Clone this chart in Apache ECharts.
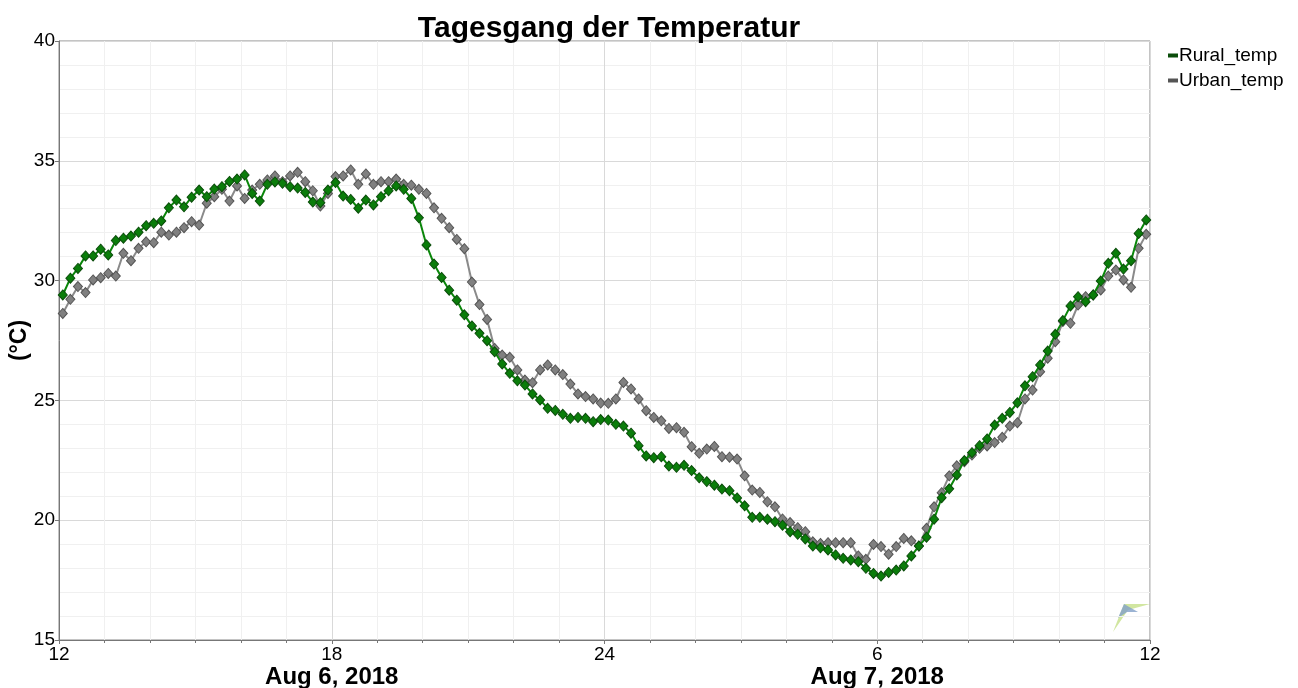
<!DOCTYPE html>
<html>
<head>
<meta charset="utf-8">
<title>Tagesgang der Temperatur</title>
<script src="https://cdn.jsdelivr.net/npm/echarts@6/dist/echarts.min.js"></script>
<style>
  html, body { margin: 0; padding: 0; background: #fff; }
  #chart { width: 1298px; height: 688px; }
</style>
</head>
<body>
<div id="chart"></div>
<script>
// 10-minute readings, first one at 12:05 on Aug 6 2018
var firstMinute = 5;
var stepMinutes = 10;

var rural = [
    29.40, 30.10, 30.51, 31.03, 31.03, 31.31, 31.07, 31.67, 31.77, 31.86,
    32.02, 32.29, 32.39, 32.49, 33.04, 33.36, 33.08, 33.48, 33.78, 33.50,
    33.82, 33.92, 34.14, 34.24, 34.41, 33.64, 33.32, 34.02, 34.12, 34.06,
    33.92, 33.86, 33.68, 33.28, 33.25, 33.78, 34.09, 33.53, 33.39, 33.02,
    33.36, 33.16, 33.50, 33.75, 33.95, 33.81, 33.43, 32.62, 31.49, 30.69,
    30.13, 29.60, 29.18, 28.57, 28.11, 27.80, 27.49, 27.03, 26.52, 26.13,
    25.82, 25.64, 25.27, 25.02, 24.67, 24.58, 24.42, 24.25, 24.29, 24.25,
    24.11, 24.20, 24.18, 24.00, 23.93, 23.63, 23.11, 22.68, 22.61, 22.65,
    22.26, 22.21, 22.29, 22.07, 21.77, 21.61, 21.46, 21.30, 21.23, 20.93,
    20.60, 20.12, 20.12, 20.04, 19.94, 19.79, 19.52, 19.41, 19.22, 18.92,
    18.85, 18.76, 18.55, 18.41, 18.34, 18.27, 17.99, 17.78, 17.67, 17.82,
    17.92, 18.09, 18.51, 18.92, 19.29, 20.04, 20.94, 21.31, 21.89, 22.49,
    22.82, 23.11, 23.39, 23.97, 24.25, 24.50, 24.90, 25.61, 25.99, 26.48,
    27.06, 27.76, 28.33, 28.94, 29.33, 29.12, 29.40, 29.98, 30.72, 31.14,
    30.48, 30.83, 31.97, 32.53
];

var urban = [
    28.63, 29.22, 29.75, 29.50, 30.03, 30.12, 30.30, 30.19, 31.14, 30.83,
    31.35, 31.62, 31.58, 32.02, 31.90, 32.02, 32.21, 32.46, 32.32, 33.23,
    33.50, 33.81, 33.32, 33.95, 33.43, 33.78, 34.02, 34.20, 34.37, 34.13,
    34.37, 34.52, 34.13, 33.75, 33.11, 33.64, 34.34, 34.37, 34.62, 34.02,
    34.45, 34.02, 34.13, 34.13, 34.24, 34.02, 33.98, 33.81, 33.64, 33.04,
    32.60, 32.21, 31.72, 31.33, 29.94, 29.00, 28.38, 27.17, 26.89, 26.80,
    26.27, 25.85, 25.74, 26.27, 26.48, 26.27, 26.08, 25.68, 25.27, 25.16,
    25.06, 24.89, 24.88, 25.06, 25.75, 25.48, 25.06, 24.57, 24.29, 24.15,
    23.83, 23.86, 23.67, 23.07, 22.79, 22.97, 23.08, 22.65, 22.63, 22.55,
    21.85, 21.26, 21.16, 20.77, 20.56, 20.05, 19.90, 19.69, 19.52, 19.10,
    19.03, 19.06, 19.06, 19.06, 19.06, 18.51, 18.37, 18.99, 18.90, 18.58,
    18.90, 19.24, 19.14, 18.92, 19.66, 20.56, 21.15, 21.85, 22.27, 22.44,
    22.72, 23.00, 23.10, 23.24, 23.46, 23.93, 24.07, 25.06, 25.43, 26.20,
    26.76, 27.45, 28.29, 28.22, 28.98, 29.33, 29.40, 29.61, 30.19, 30.44,
    30.03, 29.72, 31.35, 31.93
];

// x axis in hours after Aug 6 12:00
var xTickHours = [0, 6, 12, 18, 24];
var xTickLabels = ['12', '18', '24', '6', '12'];
var dateLabels = ['', 'Aug 6, 2018', '', 'Aug 7, 2018', ''];

function toPairs(values) {
    var out = [];
    for (var i = 0; i < values.length; i++) {
        out.push([(firstMinute + stepMinutes * i) / 60, values[i]]);
    }
    return out;
}

var dom = document.getElementById('chart');
var myChart = echarts.init(dom);
var font = '"Liberation Sans", Arial, sans-serif';

var option = {
    backgroundColor: '#fff',
    animation: false,
    textStyle: { fontFamily: font, color: '#000' },
    title: {
        text: 'Tagesgang der Temperatur',
        left: 604,
        textAlign: 'center',
        top: 9,
        textStyle: { fontFamily: font, fontSize: 30, fontWeight: 'bold', color: '#000' }
    },
    legend: {
        data: ['Rural_temp', 'Urban_temp'],
        orient: 'vertical',
        left: 1163,
        top: 41,
        itemWidth: 8,
        itemHeight: 2,
        itemGap: 6,
        icon: 'rect',
        textStyle: { fontFamily: font, fontSize: 19, color: '#000', padding: [0, 0, 0, -3] }
    },
    grid: {
        left: 59,
        right: 148,
        top: 41,
        bottom: 48,
        containLabel: false,
        outerBoundsMode: 'none',
        show: true,
        borderColor: '#888',
        borderWidth: 1
    },
    xAxis: {
        type: 'value',
        min: 0,
        max: 24,
        interval: 6,
        axisLine: { lineStyle: { color: '#777' } },
        axisTick: { show: true, length: 4, lineStyle: { color: '#777' } },
        minorTick: { show: true, splitNumber: 6, length: 3, lineStyle: { color: '#777' } },
        splitLine: { show: true, lineStyle: { color: '#d9d9d9' } },
        minorSplitLine: { show: true, lineStyle: { color: '#f0f0f0' } },
        axisLabel: {
            margin: 5,
            fontSize: 19,
            lineHeight: 19,
            color: '#000',
            fontFamily: font,
            formatter: function (v) {
                var k = xTickHours.indexOf(v);
                if (k < 0) return '';
                if (dateLabels[k]) {
                    return xTickLabels[k] + '\n{d|' + dateLabels[k] + '}';
                }
                return xTickLabels[k];
            },
            rich: {
                d: { fontFamily: font, fontSize: 24, fontWeight: 'bold', color: '#000', lineHeight: 26 }
            }
        }
    },
    yAxis: {
        type: 'value',
        min: 15,
        max: 40,
        interval: 5,
        name: '(°C)',
        nameLocation: 'middle',
        nameRotate: 90,
        nameGap: 28,
        nameMoveOverlap: false,
        nameTextStyle: { fontFamily: font, fontSize: 23, fontWeight: 'bold', color: '#000' },
        axisLine: { show: true, lineStyle: { color: '#777' } },
        axisTick: { show: true, length: 4, lineStyle: { color: '#777' } },
        splitLine: { show: true, lineStyle: { color: '#d9d9d9' } },
        minorTick: { show: false, splitNumber: 5 },
        minorSplitLine: { show: true, lineStyle: { color: '#f0f0f0' } },
        axisLabel: { fontSize: 19, color: '#000', fontFamily: font, margin: 4 }
    },
    series: [
        {
            name: 'Urban_temp',
            type: 'line',
            z: 2,
            data: toPairs(urban),
            symbol: 'diamond',
            symbolSize: [9, 10],
            showAllSymbol: true,
            lineStyle: { color: '#8a8a8a', width: 2 },
            itemStyle: { color: '#808080', borderColor: '#555', borderWidth: 1 }
        },
        {
            name: 'Rural_temp',
            type: 'line',
            z: 3,
            data: toPairs(rural),
            symbol: 'diamond',
            symbolSize: [9, 10],
            showAllSymbol: true,
            lineStyle: { color: '#0a860a', width: 2 },
            itemStyle: { color: '#0a7d0a', borderColor: '#0b4d0b', borderWidth: 1 }
        }
    ],
    graphic: [
        {
            type: 'polygon',
            shape: { points: [[1113, 632], [1124, 604], [1150, 604], [1128, 610]] },
            style: { fill: 'rgba(190,220,120,0.7)' }
        },
        {
            type: 'polygon',
            shape: { points: [[1118, 618], [1124, 604], [1138, 612], [1127, 612]] },
            style: { fill: 'rgba(130,160,200,0.8)' }
        }
    ]
};

myChart.setOption(option);
</script>
</body>
</html>
